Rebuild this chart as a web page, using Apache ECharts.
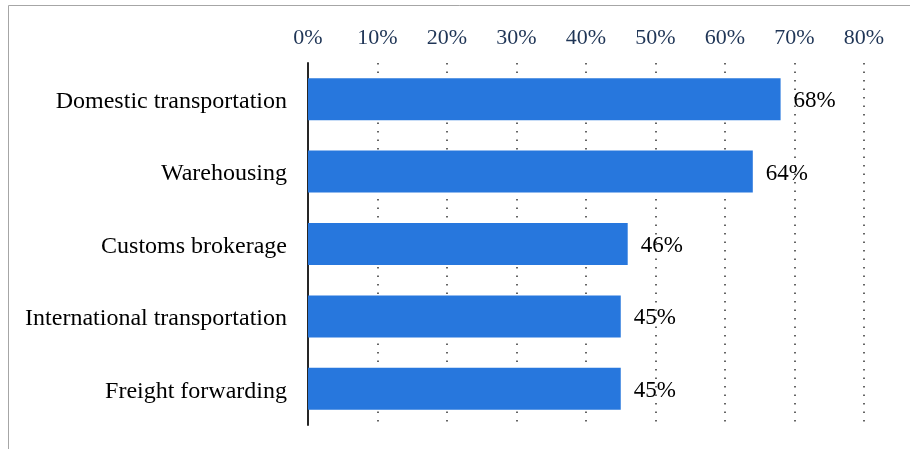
<!DOCTYPE html>
<html>
<head>
<meta charset="utf-8">
<script src="https://cdn.jsdelivr.net/npm/echarts@6/dist/echarts.min.js"></script>
<style>
  html, body { margin: 0; padding: 0; background: #fff; }
  #chart { width: 910px; height: 449px; }
</style>
</head>
<body>
<div id="chart"></div>
<script>
// Outsourced logistics services, share of respondents
const categories = [
  'Domestic transportation',
  'Warehousing',
  'Customs brokerage',
  'International transportation',
  'Freight forwarding'
];
const shares = [68, 64, 46, 45, 45];
const tickValues = [0, 10, 20, 30, 40, 50, 60, 70, 80];

const serif = '"Liberation Serif", "Times New Roman", serif';

const chart = echarts.init(document.getElementById('chart'), null, { renderer: 'canvas' });

chart.setOption({
  animation: false,
  backgroundColor: '#ffffff',
  graphic: [
    {
      // frame around the figure body
      type: 'rect',
      shape: { x: 8.5, y: 5.5, width: 1000, height: 1000 },
      style: { fill: 'none', stroke: '#a6a6a6', lineWidth: 1 },
      silent: true
    }
  ],
  grid: { left: 308, right: 46, top: 63, bottom: 24, containLabel: false },
  xAxis: {
    type: 'value',
    position: 'top',
    min: tickValues[0],
    max: tickValues[tickValues.length - 1],
    interval: 10,
    axisLine: { show: false },
    axisTick: { show: false },
    axisLabel: {
      margin: 14,
      formatter: v => v + '%',
      fontFamily: serif,
      fontSize: 22,
      color: '#1f3556'
    },
    splitLine: {
      show: true,
      lineStyle: { color: '#333333', width: 1.5, type: [1.5, 7] }
    }
  },
  yAxis: {
    type: 'category',
    data: categories,
    inverse: true,
    axisLine: { show: true, lineStyle: { color: '#262626', width: 2 } },
    axisTick: { show: false },
    axisLabel: {
      margin: 21,
      formatter: v => '{c|' + v + '}',
      rich: {
        c: {
          fontFamily: serif,
          fontSize: 24,
          color: '#000000',
          padding: [5, 0, 0, 0]
        }
      }
    }
  },
  series: [
    {
      type: 'bar',
      data: shares,
      barCategoryGap: '42%',
      z: 3,
      itemStyle: { color: '#2777dd' },
      label: {
        show: true,
        position: 'right',
        distance: 13,
        offset: [0, 2],
        formatter: p => p.value + '%',
        fontFamily: serif,
        fontSize: 23,
        color: '#000000'
      }
    }
  ]
});
</script>
</body>
</html>
